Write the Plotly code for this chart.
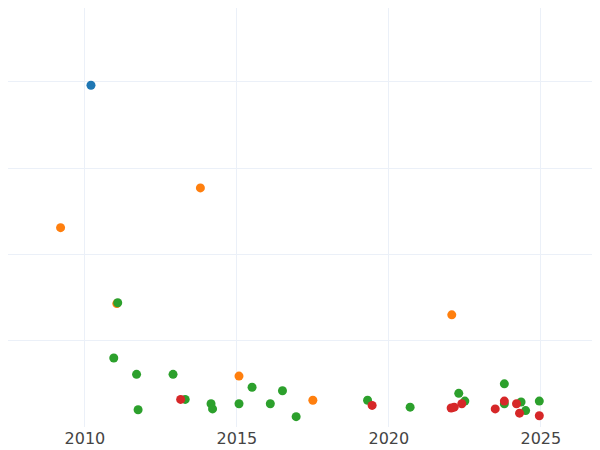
import plotly.graph_objects as go

blue_x = [2010.2]
blue_y = [3.96]
orange_x = [2009.2, 2013.8, 2011.05, 2015.07, 2017.5, 2022.07]
orange_y = [2.31, 2.77, 1.43, 0.59, 0.31, 1.30]
green_x = [2011.08, 2010.95, 2011.7, 2011.75, 2012.9, 2013.3, 2014.15, 2014.2, 2015.07, 2015.5,
           2016.1, 2016.5, 2016.95, 2019.3, 2020.7, 2022.3, 2022.5, 2023.8, 2023.8, 2024.35, 2024.5, 2024.95]
green_y = [1.44, 0.80, 0.61, 0.20, 0.61, 0.32, 0.27, 0.21, 0.27, 0.46,
           0.27, 0.42, 0.12, 0.31, 0.23, 0.39, 0.30, 0.50, 0.27, 0.29, 0.19, 0.30]
red_x = [2013.15, 2019.45, 2022.05, 2022.15, 2022.4, 2023.5, 2023.8, 2024.2, 2024.3, 2024.95]
red_y = [0.32, 0.25, 0.22, 0.23, 0.27, 0.21, 0.30, 0.27, 0.16, 0.13]

fig = go.Figure()
for xs, ys, c in [(blue_x, blue_y, "#1f77b4"), (orange_x, orange_y, "#ff7f0e"),
                  (green_x, green_y, "#2ca02c"), (red_x, red_y, "#d62728")]:
    fig.add_trace(go.Scatter(x=xs, y=ys, mode="markers", marker=dict(color=c, size=9)))

fig.update_layout(
    width=600, height=450, template="plotly_white", showlegend=False,
    margin=dict(l=0, r=0, t=0, b=31),
    font=dict(family="DejaVu Sans", size=16, color="#444"),
    xaxis=dict(range=[2007.47, 2027.21], tickvals=[2010, 2015, 2020, 2025], showline=False, zeroline=False),
    yaxis=dict(range=[0, 4.855], tickvals=[1, 2, 3, 4], showticklabels=False, zeroline=False),
)
fig.write_html("out.html")
